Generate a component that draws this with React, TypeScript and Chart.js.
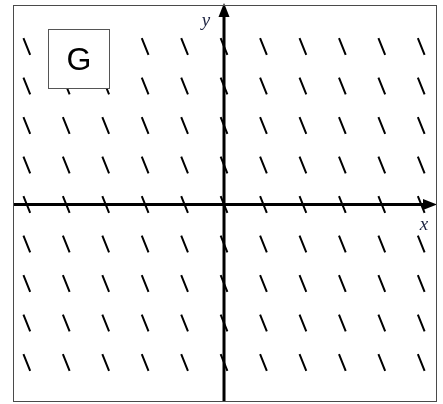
import { useEffect, useRef } from 'react';
import { Chart, registerables } from 'chart.js';

Chart.register(...registerables);

// Slope field sample grid: one short dash centred on each lattice point
const xValues = [-5, -4, -3, -2, -1, 0, 1, 2, 3, 4, 5];
const yValues = [4, 3, 2, 1, 0, -1, -2, -3, -4];
// Every dash in field G has the same steep negative slope
const slopeValues = [-2.5, -2.5, -2.5, -2.5, -2.5, -2.5, -2.5, -2.5, -2.5];
const xRange = [-5.35, 5.4];
const yRange = [-5, 5.05];
const panelLabel = 'G';
const axisLabels = ['x', 'y'];

const HALF_LEN = 0.23;

function buildDashes() {
  const pts: { x: number; y: number }[] = [];
  yValues.forEach((yc, row) => {
    const m = slopeValues[row];
    const dx = HALF_LEN / Math.sqrt(1 + m * m);
    xValues.forEach((xc) => {
      pts.push({ x: xc - dx, y: yc - m * dx });
      pts.push({ x: xc + dx, y: yc + m * dx });
      pts.push({ x: NaN, y: NaN });
    });
  });
  return pts;
}

const overlay = {
  id: 'fieldOverlay',
  afterDatasetsDraw(chart: any) {
    const { ctx, chartArea, scales } = chart;
    const { left, right, top, bottom } = chartArea;
    const x0 = scales.x.getPixelForValue(0);
    const y0 = scales.y.getPixelForValue(0);
    ctx.save();

    // coordinate axes with arrowheads
    ctx.strokeStyle = '#000';
    ctx.fillStyle = '#000';
    ctx.lineWidth = 3;
    ctx.beginPath();
    ctx.moveTo(left, y0);
    ctx.lineTo(right - 10, y0);
    ctx.moveTo(x0, bottom);
    ctx.lineTo(x0, top + 10);
    ctx.stroke();

    ctx.beginPath();
    ctx.moveTo(right, y0);
    ctx.lineTo(right - 14, y0 - 5.5);
    ctx.lineTo(right - 14, y0 + 5.5);
    ctx.closePath();
    ctx.fill();

    ctx.beginPath();
    ctx.moveTo(x0, top - 2);
    ctx.lineTo(x0 - 5.5, top + 12);
    ctx.lineTo(x0 + 5.5, top + 12);
    ctx.closePath();
    ctx.fill();

    // frame
    ctx.strokeStyle = '#4a4a4a';
    ctx.lineWidth = 1;
    ctx.strokeRect(left + 0.5, top + 0.5, right - left - 1, bottom - top - 1);

    // axis names
    ctx.fillStyle = '#1c2340';
    ctx.font = 'italic 19px "Liberation Serif", serif';
    ctx.textAlign = 'center';
    ctx.textBaseline = 'middle';
    ctx.fillText(axisLabels[0], right - 13, y0 + 21);
    ctx.fillText(axisLabels[1], x0 - 18, top + 16);

    // panel label box
    const bx = left + 35.5;
    const by = top + 24.5;
    const bw = 61;
    const bh = 59;
    ctx.fillStyle = '#fff';
    ctx.fillRect(bx, by, bw, bh);
    ctx.strokeStyle = '#555';
    ctx.strokeRect(bx, by, bw, bh);
    ctx.fillStyle = '#000';
    ctx.font = '32px "Liberation Sans", Arial, sans-serif';
    ctx.fillText(panelLabel, bx + bw / 2, by + bh / 2 + 2);

    ctx.restore();
  },
};

export default function App() {
  const canvasRef = useRef<HTMLCanvasElement>(null);

  useEffect(() => {
    if (!canvasRef.current) return;
    const chart = new Chart(canvasRef.current, {
      type: 'scatter',
      data: {
        datasets: [
          {
            data: buildDashes(),
            showLine: true,
            spanGaps: false,
            borderColor: '#000',
            borderWidth: 2,
            pointRadius: 0,
            pointHoverRadius: 0,
          },
        ],
      },
      options: {
        responsive: false,
        animation: false,
        layout: { padding: { left: 13, right: 6, top: 5, bottom: 2 } },
        plugins: { legend: { display: false }, tooltip: { enabled: false } },
        scales: {
          x: { type: 'linear', min: xRange[0], max: xRange[1], display: false },
          y: { type: 'linear', min: yRange[0], max: yRange[1], display: false },
        },
      },
      plugins: [overlay],
    });
    return () => chart.destroy();
  }, []);

  return (
    <div style={{ position: 'absolute', left: 0, top: 0, width: 443, height: 404, background: '#fff' }}>
      <canvas ref={canvasRef} width={443} height={404} />
    </div>
  );
}
